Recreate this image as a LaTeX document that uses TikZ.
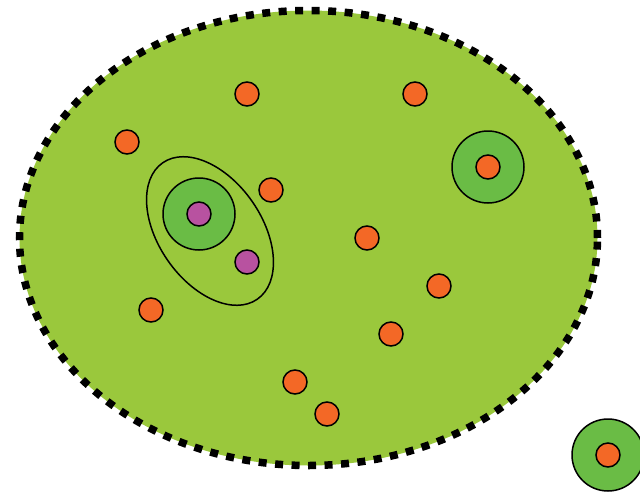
\documentclass[tikz,border=0pt]{standalone}
\usetikzlibrary{shapes.geometric}
\definecolor{fieldgreen}{RGB}{154,200,60}
\definecolor{ringgreen}{RGB}{106,188,69}
\definecolor{dotorange}{RGB}{243,104,38}
\definecolor{dotpink}{RGB}{184,82,160}
\begin{document}
\begin{tikzpicture}[x=1pt,y=-1pt,
  dot/.style={circle,draw=black,line width=1.5pt,inner sep=0pt,minimum size=24pt},
  odot/.style={dot,fill=dotorange},
  pdot/.style={dot,fill=dotpink},
  ring/.style={circle,draw=black,line width=1.5pt,fill=ringgreen,inner sep=0pt,minimum size=72pt},
]
\useasboundingbox (0,0) rectangle (640,493);
\clip (0,0) rectangle (640,493);
\node[ellipse,fill=fieldgreen,draw=black,line width=7.5pt,dash pattern=on 8pt off 8.5pt,
  inner sep=0pt,minimum width=578pt,minimum height=455pt] (field) at (308.5,238) {};
\node[ellipse,draw=black,line width=1.5pt,inner sep=0pt,rotate=-55.3,
  minimum width=166pt,minimum height=103pt] (group) at (210,231) {};
\node[ring] (r1) at (199,214) {};
\node[ring] (r2) at (488,167) {};
\node[ring] (r3) at (608,455) {};
\node[pdot] (p1) at (199,214) {};
\node[pdot] (p2) at (247,262) {};
\node[odot] (o0) at (488,167) {};
\node[odot] (o00) at (608,455) {};
\node[odot] (o1) at (247,94) {};
\node[odot] (o2) at (415,94) {};
\node[odot] (o3) at (127,142) {};
\node[odot] (o4) at (271,190) {};
\node[odot] (o5) at (367,238) {};
\node[odot] (o6) at (439,286) {};
\node[odot] (o7) at (151,310) {};
\node[odot] (o8) at (391,334) {};
\node[odot] (o9) at (295,382) {};
\node[odot] (o10) at (327,414) {};
\end{tikzpicture}
\end{document}
